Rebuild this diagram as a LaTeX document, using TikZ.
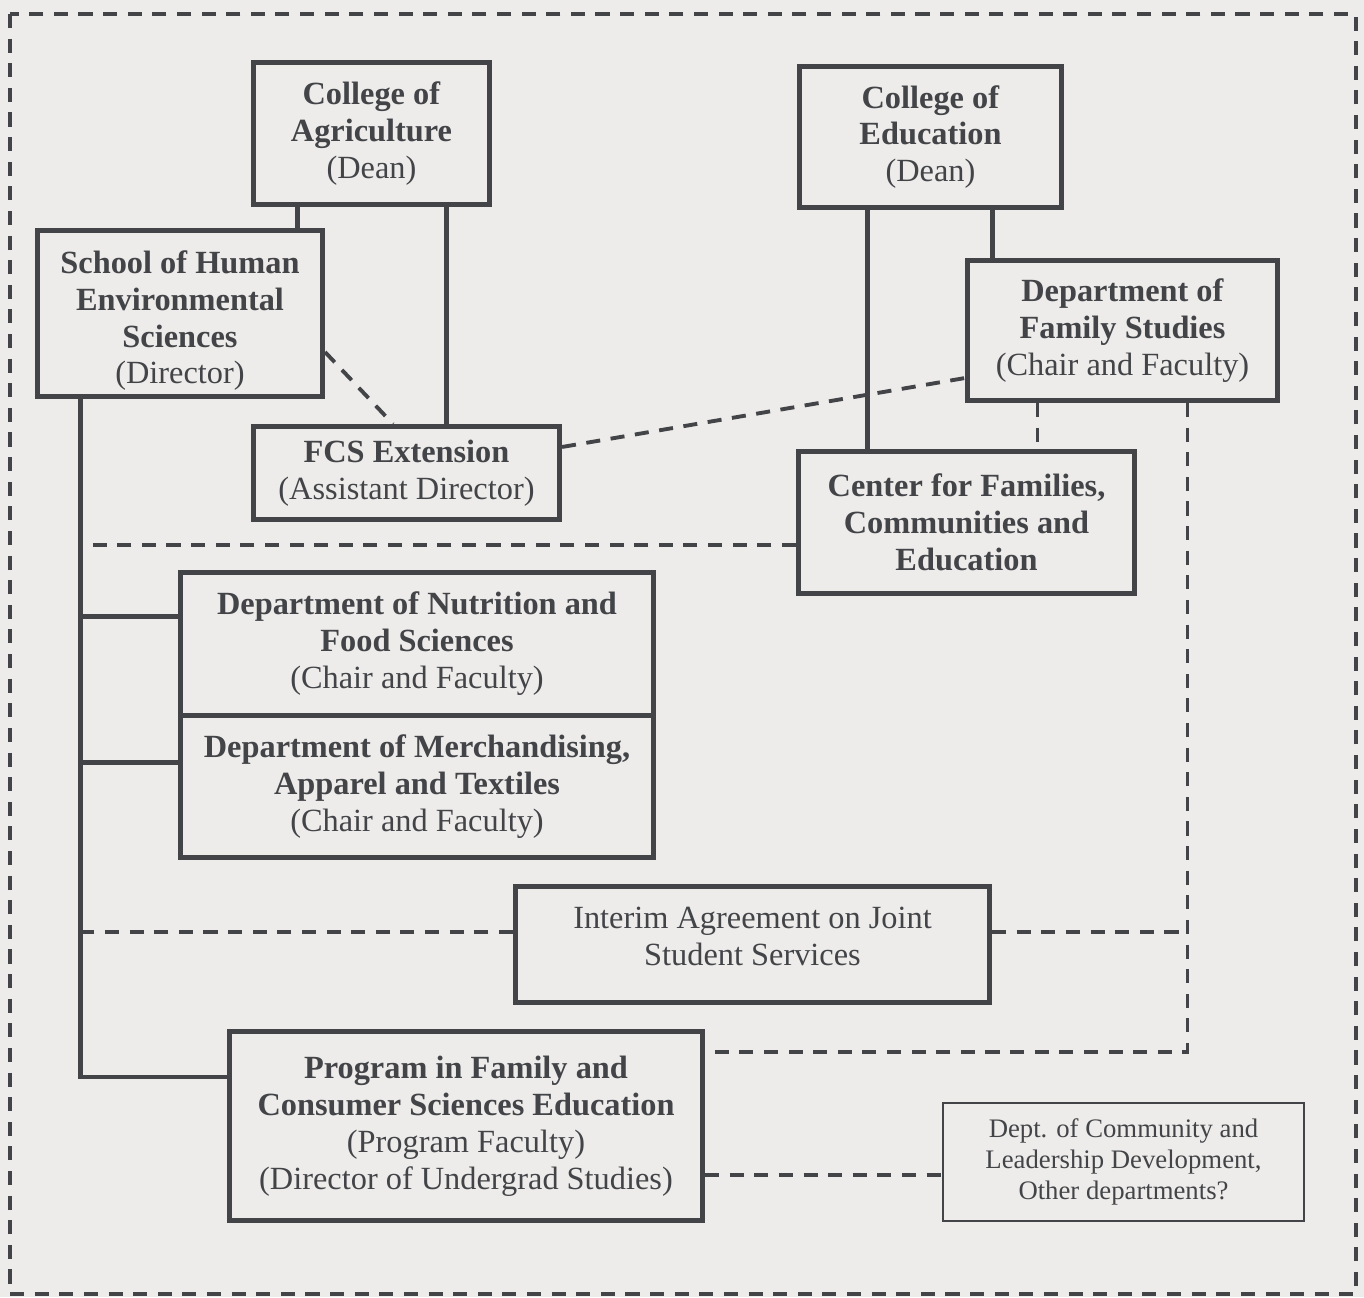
\documentclass[tikz,border=0pt]{standalone}
\usepackage{fontspec}
\setmainfont{Liberation Serif}
\usetikzlibrary{positioning,calc}
\definecolor{PaperGray}{RGB}{238,236,234}
\definecolor{InkGray}{RGB}{66,68,72}

\begin{document}
\begin{tikzpicture}[x=0.01cm, y=-0.01cm,
    unit/.style={draw=InkGray, line width=1.4pt, align=center, inner sep=0pt, text=InkGray, font=\fontsize{9.2}{10.5}\selectfont},
    note/.style={draw=InkGray, line width=0.7pt, align=center, inner sep=0pt, text=InkGray, font=\fontsize{7.6}{8.8}\selectfont},
    link/.style={InkGray, line width=1.3pt},
    tie/.style={InkGray, line width=1.1pt, dash pattern=on 4pt off 3pt}]
  \fill[PaperGray] (0,0) rectangle (1364,1297);
  \draw[tie] (10,14) rectangle (1356,1294);

  % colleges and units
  \node[unit, minimum width=2.36cm, minimum height=1.42cm] (agri) at (371.5,133.5) {\textbf{College of}\\\textbf{Agriculture}\\(Dean)};
  \node[unit, minimum width=2.62cm, minimum height=1.41cm] (edu) at (930.5,137) {\textbf{College of}\\\textbf{Education}\\(Dean)};
  \node[unit, minimum width=2.85cm, minimum height=1.66cm] (shes) at (180,313.5) {\rule{0pt}{0.37cm}\textbf{School of Human}\\\textbf{Environmental}\\\textbf{Sciences}\\(Director)};
  \node[unit, minimum width=3.10cm, minimum height=1.40cm] (fam) at (1122.5,330.5) {\textbf{Department of}\\\textbf{Family Studies}\\(Chair and Faculty)};
  \node[unit, minimum width=3.06cm, minimum height=0.93cm] (fcs) at (406.5,473) {\textbf{FCS Extension}\\(Assistant Director)};
  \node[unit, minimum width=3.36cm, minimum height=1.42cm] (cfce) at (966.5,522.5) {\textbf{Center for Families,}\\\textbf{Communities and}\\\textbf{Education}};
  \node[unit, minimum width=4.73cm, minimum height=1.425cm] (nfs) at (417,643.75) {\textbf{Department of Nutrition and}\\\textbf{Food Sciences}\\(Chair and Faculty)};
  \node[unit, minimum width=4.73cm, minimum height=1.425cm] (mat) at (417,786.25) {\textbf{Department of Merchandising,}\\\textbf{Apparel and Textiles}\\(Chair and Faculty)};
  \node[unit, minimum width=4.74cm, minimum height=1.16cm, text depth=0.17cm] (jss) at (752.5,944.5) {Interim Agreement on Joint\\Student Services};
  \node[unit, minimum width=4.73cm, minimum height=1.89cm] (fcse) at (466,1126) {\textbf{Program in Family and}\\\textbf{Consumer Sciences Education}\\(Program Faculty)\\(Director of Undergrad Studies)};
  \node[note, minimum width=3.61cm, minimum height=1.18cm] (cld) at (1123.5,1162) {Dept. of Community and\\Leadership Development,\\Other departments?};

  % reporting lines
  \coordinate (spine) at ([xshift=0.455cm]shes.south west);
  \coordinate (rail) at ([xshift=-0.925cm]fam.south east);
  \draw[link] ([xshift=0.465cm]agri.south west) -- ([xshift=0.465cm]agri.south west |- shes.north);
  \draw[link] ([xshift=-0.455cm]agri.south east) -- ([xshift=-0.455cm]agri.south east |- fcs.north);
  \draw[link] ([xshift=0.705cm]edu.south west) -- ([xshift=0.705cm]edu.south west |- cfce.north);
  \draw[link] ([xshift=-0.715cm]edu.south east) -- ([xshift=-0.715cm]edu.south east |- fam.north);
  \draw[link] (spine) |- ([yshift=0.49cm]fcse.west);
  \coordinate (b1) at ([yshift=0.27cm]nfs.west);
  \coordinate (b2) at ([yshift=0.24cm]mat.west);
  \draw[link] (b1) -- (b1 -| spine);
  \draw[link] (b2) -- (b2 -| spine);

  % informal ties
  \draw[tie] ([yshift=-0.385cm]shes.east) -- ([xshift=-0.135cm]fcs.north);
  \draw[tie] ([yshift=0.26cm]fcs.east) -- ([yshift=-0.475cm]fam.west);
  \draw[tie] ([xshift=0.725cm]fam.south west) -- ([xshift=0.725cm]fam.south west |- cfce.north);
  \draw[tie] ([yshift=-0.225cm]cfce.west) -- ([yshift=-0.225cm]cfce.west -| spine);
  \draw[tie] (rail) |- ([yshift=0.74cm]fcse.east);
  \coordinate (j1) at ([yshift=0.125cm]jss.west);
  \coordinate (j2) at ([yshift=0.125cm]jss.east);
  \draw[tie] (j1) -- (j1 -| spine);
  \draw[tie] (j2) -- (j2 -| rail);
  \coordinate (p1) at ([yshift=-0.49cm]fcse.east);
  \draw[tie] (p1) -- (p1 -| cld.west);
\end{tikzpicture}
\end{document}
